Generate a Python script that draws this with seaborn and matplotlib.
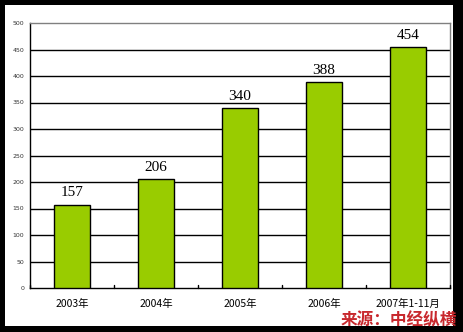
import matplotlib
matplotlib.use("Agg")
import matplotlib.pyplot as plt
import seaborn as sns
import pandas as pd
from matplotlib.patches import Rectangle

categories = ["2003年", "2004年", "2005年", "2006年", "2007年1-11月"]
values = [157, 206, 340, 388, 454]
yticks = [0, 50, 100, 150, 200, 250, 300, 350, 400, 450, 500]
source = "来源：中经纵横"

sns.set_theme(style="white")
plt.rcParams['font.family'] = ['Noto Sans CJK SC', 'DejaVu Sans']

fig = plt.figure(figsize=(4.64, 3.32), dpi=100, facecolor="black")
fig.patches.append(Rectangle((5/464, 1 - 326/332), (453-5)/464, (326-5)/332,
                             transform=fig.transFigure, facecolor="white",
                             edgecolor="none", zorder=-10))
ax = fig.add_axes([30/464, 1 - 288/332, 420/464, (288-23)/332])
ax.set_zorder(1)
ax.set_facecolor("white")

df = pd.DataFrame({"cat": categories, "val": values})
sns.barplot(data=df, x="cat", y="val", ax=ax, color="#99CC00", saturation=1,
            width=0.42, edgecolor="black", linewidth=1, zorder=3)

ax.set_ylim(0, 500)
ax.set_xlim(-0.5, len(categories) - 0.5)
ax.set_yticks(yticks)
ax.set_yticklabels([str(t) for t in yticks], fontsize=4.5, color="#333333",
                   family="DejaVu Sans")
for t in yticks[1:-1]:
    ax.axhline(t, color="black", linewidth=1, zorder=1)
ax.set_xticks(range(len(categories)))
ax.set_xticklabels(categories, fontsize=7.5, color="black")
ax.tick_params(axis="x", length=0, pad=8)
ax.tick_params(axis="y", length=0, pad=4)
ax.set_xlabel("")
ax.set_ylabel("")

for s in ["left", "bottom"]:
    ax.spines[s].set_color("black")
    ax.spines[s].set_linewidth(1)
for s in ["top", "right"]:
    ax.spines[s].set_color("#808080")
    ax.spines[s].set_linewidth(1)

# between-category ticks on x axis
for i in range(len(categories) + 1):
    ax.plot([i - 0.5, i - 0.5], [0, 6], color="black", linewidth=1,
            clip_on=False, zorder=4)

for i, v in enumerate(values):
    ax.text(i, v + 10, str(v), ha="center", va="bottom", fontsize=11,
            family="Liberation Serif", color="black")

fig.text(457/464, 1 - 320/332, source, ha="right", va="center", fontsize=12,
         color="#C8282D", fontweight="bold", style="italic")

fig.savefig("out.png", dpi=100, facecolor="black")
